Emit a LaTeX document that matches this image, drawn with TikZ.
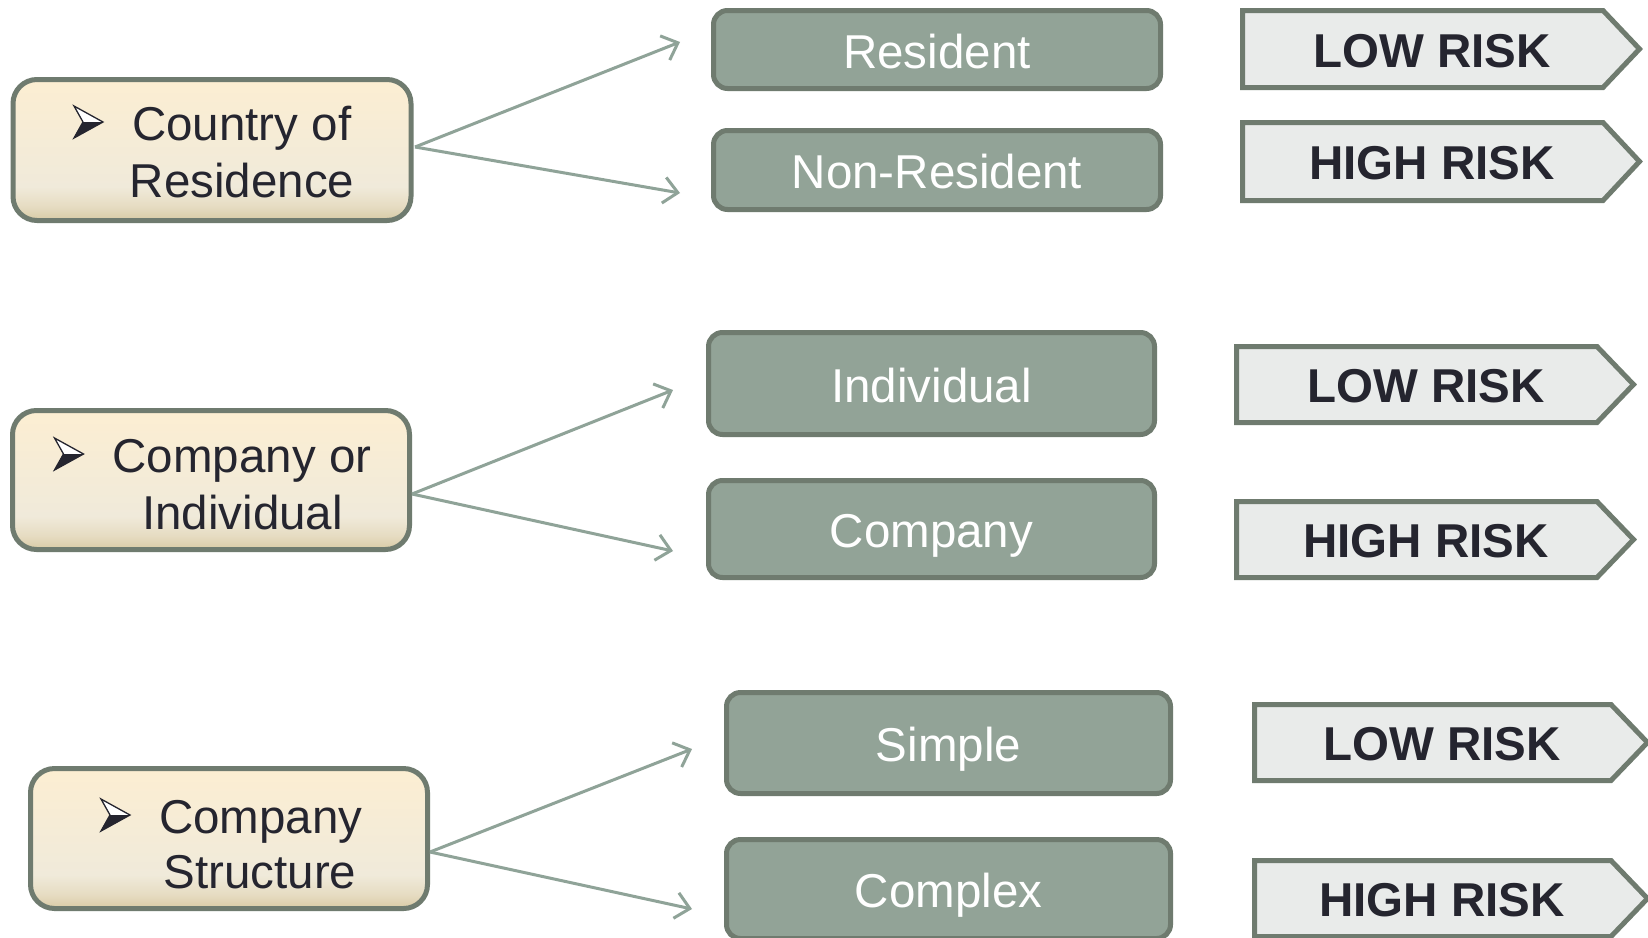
\documentclass[tikz,border=0pt]{standalone}
\usepackage{fontspec}
\setmainfont{Liberation Sans}
\usetikzlibrary{arrows.meta}
\definecolor{edgec}{HTML}{6F7B6F}
\definecolor{midfill}{HTML}{92A397}
\definecolor{riskfill}{HTML}{E9EBEA}
\definecolor{darkt}{HTML}{25252F}
\definecolor{connc}{HTML}{8FA398}
\definecolor{creamt}{HTML}{FCEED2}
\definecolor{creamm}{HTML}{F0EADA}
\definecolor{creamk}{HTML}{E6DCC2}
\definecolor{creamb}{HTML}{D8CAA5}
\pgfdeclareverticalshading{creamshade}{100bp}{color(0bp)=(creamb); color(25bp)=(creamb); color(30bp)=(creamk); color(37bp)=(creamm); color(75bp)=(creamt); color(100bp)=(creamt)}
\tikzset{
  bigfont/.style={font=\fontsize{47.5}{57}\selectfont},
  leftbox/.style={draw=edgec, line width=5pt, rounded corners=24pt, shade, shading=creamshade, inner sep=0pt},
  lefttext/.style={bigfont, text=darkt, inner sep=0pt},
  midbox/.style={draw=edgec, line width=5pt, fill=midfill, rounded corners=14pt, inner sep=0pt, text=white, bigfont, text height=37pt, text depth=0pt},
  riskshape/.style={draw=edgec, line width=5pt, fill=riskfill, line join=miter},
  risktext/.style={font=\bfseries\fontsize{47.5}{57}\selectfont, text=darkt, inner sep=0pt},
  conn/.style={draw=connc, line width=3pt, -{Straight Barb[length=14pt, width=26pt, line width=3pt]}},
  arrowbullet/.pic={
    \fill[white] (0,-34) -- (29,-18) -- (9,-18) -- cycle;
    \fill[darkt] (9,-18) -- (29,-18) -- (0,-2) -- cycle;
    \draw[darkt, line width=1.3pt, line join=miter] (0,-34) -- (29,-18) -- (0,-2) -- (9,-18) -- cycle;
  }
}
\newcommand{\riskpath}[5]{% x1 y1 y2 shoulder tip
  \draw[riskshape] (#1+2.5,#2+2.5) -- (#4,#2+2.5) -- (#5-2.5,{(#2+#3)/2}) -- (#4,#3-2.5) -- (#1+2.5,#3-2.5) -- cycle;
}
\begin{document}
\begin{tikzpicture}[x=1pt, y=-1pt]
\useasboundingbox (0,0) rectangle (1648,937);
\clip (0,0) rectangle (1648,937);
\fill[white] (0,0) rectangle (1648,937);

% ---------- Group 1 ----------
\node[leftbox, minimum width=398pt, minimum height=141pt] (L1) at (212,150) {};
\node[lefttext, anchor=base west] (L1a) at (132,140) {Country of};
\path (L1a.base west) ++(-58,0) pic {arrowbullet};
\node[lefttext, anchor=base] (L1b) at (242,197) {Residence};

\node[midbox, minimum width=447pt, minimum height=78pt] (M1) at (937,49.5) {Resident};
\node[midbox, minimum width=447pt, minimum height=79pt] (M2) at (937,170) {Non-Resident};

\riskpath{1240}{8}{90}{1603}{1642}
\node[risktext] (R1) at (1432,51) {LOW RISK};
\riskpath{1240}{120}{203}{1603}{1642}
\node[risktext] (R2) at (1432,163) {HIGH RISK};

\coordinate (s1) at (415,147);
\coordinate (e1a) at (680,42);
\coordinate (e1b) at (680,193);
\draw[conn] (s1) -- (e1a);
\draw[conn] (s1) -- (e1b);

% ---------- Group 2 ----------
\node[leftbox, minimum width=397pt, minimum height=139pt] (L2) at (211,480) {};
\node[lefttext, anchor=base west] (L2a) at (112.5,472) {Company or};
\path (L2a.base west) ++(-58,0) pic {arrowbullet};
\node[lefttext, anchor=base] (L2b) at (242.5,529) {Individual};

\node[midbox, minimum width=446pt, minimum height=102pt] (M3) at (931.5,383.5) {Individual};
\node[midbox, minimum width=446pt, minimum height=97pt] (M4) at (931.5,529) {Company};

\riskpath{1234}{344}{425}{1597}{1636}
\node[risktext] (R3) at (1426,386) {LOW RISK};
\riskpath{1234}{499}{580}{1597}{1636}
\node[risktext] (R4) at (1426,541) {HIGH RISK};

\coordinate (s2) at (412,494);
\coordinate (e2a) at (673,390);
\coordinate (e2b) at (673,551);
\draw[conn] (s2) -- (e2a);
\draw[conn] (s2) -- (e2b);

% ---------- Group 3 ----------
\node[leftbox, minimum width=397pt, minimum height=140pt] (L3) at (229,838.5) {};
\node[lefttext, anchor=base west] (L3a) at (159,833) {Company};
\path (L3a.base west) ++(-58,0) pic {arrowbullet};
\node[lefttext, anchor=base] (L3b) at (260,888) {Structure};

\node[midbox, minimum width=444pt, minimum height=101pt] (M5) at (948.5,743) {Simple};
\node[midbox, minimum width=444pt, minimum height=99pt] (M6) at (948.5,889) {Complex};

\riskpath{1252}{702}{783}{1611}{1650}
\node[risktext] (R5) at (1442,744) {LOW RISK};
\riskpath{1252}{858}{939}{1611}{1650}
\node[risktext] (R6) at (1442,900) {HIGH RISK};

\coordinate (s3) at (430,852);
\coordinate (e3a) at (692,749);
\coordinate (e3b) at (692,909);
\draw[conn] (s3) -- (e3a);
\draw[conn] (s3) -- (e3b);
\end{tikzpicture}
\end{document}
